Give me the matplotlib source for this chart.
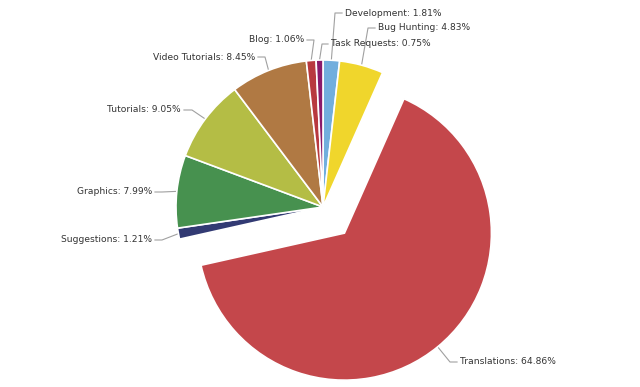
import numpy as np
import matplotlib.pyplot as plt

labels = ['Development', 'Bug Hunting', 'Translations', 'Suggestions', 'Graphics',
          'Tutorials', 'Video Tutorials', 'Blog', 'Task Requests']
shares = [1.81, 4.83, 64.86, 1.21, 7.99, 9.05, 8.45, 1.06, 0.75]
colors = ['#72aedd', '#f0d62c', '#c4474b', '#323a73', '#47914f',
          '#b4bd45', '#b07943', '#b8393f', '#8a1a6a']
explode = [0, 0, 0.23, 0, 0, 0, 0, 0, 0]

W, H = 640, 387
cx, cy, R = 323, 207, 147   # pixel centre / radius of the pie

# label text anchor, elbow of the connector (pixels, y down), alignment
label_pos = {
    'Development':     ((345, 13), (335, 13), 'left'),
    'Bug Hunting':     ((378, 28), (368, 28), 'left'),
    'Translations':    ((460, 362), (450, 362), 'left'),
    'Suggestions':     ((152, 240), (162, 240), 'right'),
    'Graphics':        ((152, 192), (162, 192), 'right'),
    'Tutorials':       ((181, 110), (192, 110), 'right'),
    'Video Tutorials': ((255, 57), (265, 57), 'right'),
    'Blog':            ((304, 40), (314, 40), 'right'),
    'Task Requests':   ((331, 44), (322, 44), 'left'),
}


def px(x, y):
    return (x - cx) / R, (cy - y) / R


fig = plt.figure(figsize=(6.4, 3.87), dpi=100)
ax = fig.add_axes([0, 0, 1, 1])

wedges, _ = ax.pie(shares, colors=colors, explode=explode, startangle=90,
                   counterclock=False, radius=1,
                   wedgeprops=dict(edgecolor='white', linewidth=1.2))

# pie() resets the limits, so set them afterwards
ax.set_xlim(-cx / R, (W - cx) / R)
ax.set_ylim(-(H - cy) / R, cy / R)
ax.set_aspect('equal')
ax.axis('off')

for w, name, val in zip(wedges, labels, shares):
    mid = np.deg2rad((w.theta1 + w.theta2) / 2)
    ox, oy = w.center
    edge = (ox + np.cos(mid), oy + np.sin(mid))
    (tx, ty), (ex, ey), ha = label_pos[name]
    tx, ty = px(tx, ty)
    ex, ey = px(ex, ey)
    ax.plot([edge[0], ex, tx - (0.02 if ha == 'left' else -0.02)],
            [edge[1], ey, ty], color='#a0a0a0', lw=0.8, zorder=0)
    ax.text(tx, ty, f'{name}: {val:.2f}%', ha=ha, va='center',
            fontsize=6.6, color='#333333', family='DejaVu Sans')

fig.savefig('out.png', dpi=100, facecolor='white')
